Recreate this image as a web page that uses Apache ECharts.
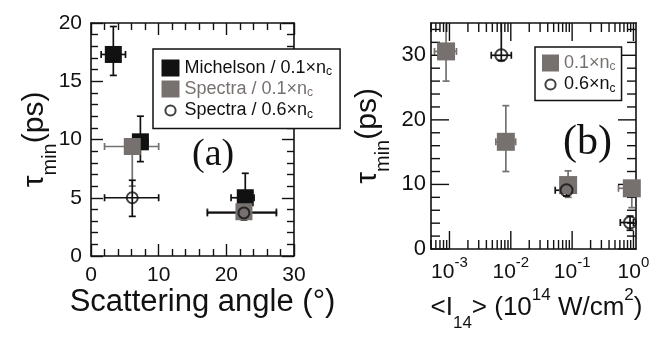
<!DOCTYPE html>
<html>
<head>
<meta charset="utf-8">
<script src="https://cdn.jsdelivr.net/npm/echarts@6/dist/echarts.min.js"></script>
<style>
  html, body { margin: 0; background: #fff; }
  .panel { position: absolute; left: 0; top: 0; width: 662px; height: 337px; }
</style>
</head>
<body>
<div id="chartA" class="panel"></div>
<div id="chartB" class="panel"></div>
<script>
// panel (a): scattering angle (deg) vs tau_min (ps)
const michelsonAngle = [3.3, 7.3, 22.8];
const michelsonTau = [17.3, 9.8, 5.0];
const michelsonAngleErr = [[1.5, 5.1], [6.2, 8.4], [20.7, 24.1]];
const michelsonTauErr = [[15.5, 19.7], [8.1, 12.0], [3.3, 7.1]];

const spectraLowAngle = [6.1, 22.6];
const spectraLowTau = [9.4, 3.8];
const spectraLowAngleErr = [[2.0, 10.0], [17.2, 27.4]];
const spectraLowTauErr = [[6.0, 10.0], [3.2, 4.4]];

const spectraHighAngle = [6.1, 22.6];
const spectraHighTau = [5.0, 3.7];
const spectraHighAngleErr = [[2.0, 10.0], [17.2, 27.4]];
const spectraHighTauErr = [[3.4, 6.5], [3.1, 4.3]];

// panel (b): <I14> (1e14 W/cm2) vs tau_min (ps)
const lowIntensity = [0.00088, 0.0083, 0.086, 0.94];
const lowTau = [30.6, 16.6, 9.9, 9.4];
const lowIntensityErr = [[0.00057, 0.0013], [0.0057, 0.012], [0.065, 0.11], [0.57, 1.5]];
const lowTauErr = [[26.0, 35.2], [12.0, 22.2], [8.0, 12.1], [6.4, 10.4]];

const highIntensity = [0.0070, 0.081, 0.88];
const highTau = [30.0, 9.1, 4.1];
const highIntensityErr = [[0.0048, 0.0102], [0.053, 0.11], [0.61, 1.0]];
const highTauErr = [[29.2, 40], [8.2, 10.0], [2.9, 5.1]];

// axes
const angleTicks = [0, 10, 20, 30];
const tauTicksA = [0, 5, 10, 15, 20];
const tauTicksB = [0, 10, 20, 30];
const tauMaxB = 35;
const decades = [0.001, 0.01, 0.1, 1];
const intensityMin = 0.0005;
const intensityMax = 1.1;

const BLACK = '#111';
const GRAY = '#76716f';
const FONT = 'Liberation Sans';

// tick lists for the log panel (inside the frame, bottom/top and left/right)
function linearMinor(ticks, step, max) {
  const out = [];
  for (let v = ticks[0] + step; v < max - 1e-9; v += step) {
    const r = Math.round(v * 1000) / 1000;
    if (!ticks.includes(r)) out.push(r);
  }
  return out;
}
const logMinorTicks = [];
[0.0001].concat(decades).forEach(d => {
  for (let m = 2; m <= 9; m++) {
    const v = m * d;
    if (v > intensityMin * 0.999 && v < intensityMax) logMinorTicks.push(v);
  }
});
// [x, y, direction (0 = on x axes, 1 = on y axes), length]
const ticksB = [].concat(
  decades.map(v => [v, 0, 0, 18]),
  logMinorTicks.map(v => [v, 0, 0, 9]),
  tauTicksB.map(v => [intensityMin, v, 1, 18]),
  linearMinor(tauTicksB, 2, tauMaxB).map(v => [intensityMin, v, 1, 9])
);

const zipErr = (xs, ys, xe, ye) => xs.map((x, i) => [x, ys[i], xe[i][0], xe[i][1], ye[i][0], ye[i][1]]);
const zip = (xs, ys) => xs.map((x, i) => [x, ys[i]]);

function errorBars(color) {
  return function (params, api) {
    const x = api.value(0), y = api.value(1);
    const c = api.coord([x, y]);
    const l = api.coord([api.value(2), y]);
    const r = api.coord([api.value(3), y]);
    const b = api.coord([x, api.value(4)]);
    const t = api.coord([x, api.value(5)]);
    const cap = 3.5;
    const style = { stroke: color, lineWidth: 1.7 };
    const ln = (x1, y1, x2, y2) => ({ type: 'line', shape: { x1, y1, x2, y2 }, style });
    return {
      type: 'group',
      children: [
        ln(l[0], c[1], r[0], c[1]),
        ln(l[0], c[1] - cap, l[0], c[1] + cap),
        ln(r[0], c[1] - cap, r[0], c[1] + cap),
        ln(c[0], b[1], c[0], t[1]),
        ln(c[0] - cap, b[1], c[0] + cap, b[1]),
        ln(c[0] - cap, t[1], c[0] + cap, t[1])
      ]
    };
  };
}

function frameTicks(xMin, xMax, yMin, yMax) {
  return function (params, api) {
    const dir = Number(api.value(2)), len = Number(api.value(3));
    const style = { stroke: BLACK, lineWidth: 1.4 };
    let a, b;
    if (dir === 0) {
      a = api.coord([api.value(0), yMin]);
      b = api.coord([api.value(0), yMax]);
      return { type: 'group', children: [
        { type: 'line', shape: { x1: a[0], y1: a[1], x2: a[0], y2: a[1] - len }, style },
        { type: 'line', shape: { x1: b[0], y1: b[1], x2: b[0], y2: b[1] + len }, style }
      ] };
    }
    a = api.coord([xMin, api.value(1)]);
    b = api.coord([xMax, api.value(1)]);
    return { type: 'group', children: [
      { type: 'line', shape: { x1: a[0], y1: a[1], x2: a[0] + len, y2: a[1] }, style },
      { type: 'line', shape: { x1: b[0], y1: b[1], x2: b[0] - len, y2: b[1] }, style }
    ] };
  };
}

const axisLine = { show: true, onZero: false, lineStyle: { color: BLACK, width: 1.6 } };
const noTicks = { axisTick: { show: false }, minorTick: { show: false }, splitLine: { show: false } };
function ticksOn(major, minorSplit, minor) {
  return {
    axisTick: { show: true, inside: true, length: major, lineStyle: { color: BLACK, width: 1.4 } },
    minorTick: { show: true, splitNumber: minorSplit, length: minor, lineStyle: { color: BLACK, width: 1.4 } },
    splitLine: { show: false }
  };
}

const tauRich = {
  t: { fontSize: 30, lineHeight: 30, verticalAlign: 'top', color: BLACK, fontFamily: FONT },
  s: { fontSize: 20, lineHeight: 20, verticalAlign: 'top', padding: [20, 0, 0, 0], color: BLACK, fontFamily: FONT }
};

const legendRich = {
  t: { fontSize: 18, lineHeight: 18, verticalAlign: 'top', color: BLACK, fontFamily: FONT },
  s: { fontSize: 12, lineHeight: 12, verticalAlign: 'top', padding: [7, 0, 0, 0], color: BLACK, fontFamily: FONT },
  tg: { fontSize: 18, lineHeight: 18, verticalAlign: 'top', color: GRAY, fontFamily: FONT },
  sg: { fontSize: 12, lineHeight: 12, verticalAlign: 'top', padding: [7, 0, 0, 0], color: GRAY, fontFamily: FONT }
};
const legendText = {
  'Michelson / 0.1×nc': '{t|Michelson / 0.1×n}{s|c}',
  'Spectra / 0.1×nc': '{tg|Spectra / 0.1×n}{sg|c}',
  'Spectra / 0.6×nc': '{t|Spectra / 0.6×n}{s|c}',
  '0.1×nc': '{tg|0.1×n}{sg|c}',
  '0.6×nc': '{t|0.6×n}{s|c}'
};
const ringIcon = 'path://M0,0M20,20M4,10A6,6,0,1,1,16,10A6,6,0,1,1,4,10Z';
const openItem = { color: 'rgba(0,0,0,0)', borderColor: BLACK, borderWidth: 2 };

const isDecade = v => Math.abs(Math.log10(v) - Math.round(Math.log10(v))) < 1e-6;

// ---- panel (a): its own chart instance ----
const chartA = echarts.init(document.getElementById('chartA'), null, { renderer: 'canvas' });
const angleAxis = {
  type: 'value', gridIndex: 0,
  min: angleTicks[0], max: angleTicks[angleTicks.length - 1], interval: angleTicks[1] - angleTicks[0],
  axisLine
};
const tauAxisA = {
  type: 'value', gridIndex: 0,
  min: tauTicksA[0], max: tauTicksA[tauTicksA.length - 1], interval: tauTicksA[1] - tauTicksA[0],
  axisLine
};
chartA.setOption({
  animation: false,
  textStyle: { fontFamily: FONT },
  grid: [{ left: 91, right: 368, top: 23, bottom: 81 }],
  xAxis: [
    Object.assign({}, angleAxis, ticksOn(12, 5, 7), {
      position: 'bottom',
      axisLabel: { margin: 9, fontSize: 21, lineHeight: 21, color: BLACK, fontFamily: FONT },
      name: 'Scattering angle (°)', nameLocation: 'middle', nameGap: 31, nameMoveOverlap: false,
      nameTextStyle: { fontSize: 31, lineHeight: 31, color: BLACK, fontFamily: FONT, padding: [0, 0, 0, 20] }
    }),
    Object.assign({}, angleAxis, ticksOn(12, 5, 7), { position: 'top', axisLabel: { show: false } })
  ],
  yAxis: [
    Object.assign({}, tauAxisA, ticksOn(12, 5, 7), {
      position: 'left',
      axisLabel: { margin: 9, fontSize: 21, color: BLACK, fontFamily: FONT },
      name: '{t|τ}{s|min}{t|(ps)}', nameLocation: 'middle', nameGap: 41, nameMoveOverlap: false,
      nameTextStyle: { rich: tauRich }
    }),
    Object.assign({}, tauAxisA, ticksOn(12, 5, 7), { position: 'right', axisLabel: { show: false } })
  ],
  legend: {
    left: 153, top: 49, orient: 'vertical', selectedMode: false,
    itemWidth: 18, itemHeight: 17, itemGap: 2,
    padding: [10, 8, 8, 8],
    backgroundColor: '#fff', borderColor: BLACK, borderWidth: 1.5, borderRadius: 0,
    textStyle: { rich: legendRich },
    formatter: n => legendText[n],
    data: [
      { name: 'Michelson / 0.1×nc', icon: 'rect' },
      { name: 'Spectra / 0.1×nc', icon: 'rect' },
      { name: 'Spectra / 0.6×nc', icon: ringIcon, itemStyle: openItem }
    ]
  },
  graphic: [
    { type: 'text', left: 192, top: 136, style: { text: '(a)', font: '38px "Liberation Serif"', fill: BLACK } }
  ],
  series: [
    {
      type: 'custom', clip: true, silent: true,
      renderItem: errorBars(BLACK), encode: { x: 0, y: 1 },
      data: zipErr(michelsonAngle, michelsonTau, michelsonAngleErr, michelsonTauErr)
    },
    {
      name: 'Michelson / 0.1×nc', type: 'scatter',
      symbol: 'rect', symbolSize: 17, itemStyle: { color: BLACK, opacity: 1 },
      data: zip(michelsonAngle, michelsonTau)
    },
    {
      type: 'custom', clip: true, silent: true,
      renderItem: errorBars(GRAY), encode: { x: 0, y: 1 },
      data: zipErr(spectraLowAngle, spectraLowTau, spectraLowAngleErr, spectraLowTauErr)
    },
    {
      name: 'Spectra / 0.1×nc', type: 'scatter',
      symbol: 'rect', symbolSize: 17, itemStyle: { color: GRAY, opacity: 1 },
      data: zip(spectraLowAngle, spectraLowTau)
    },
    {
      type: 'custom', clip: true, silent: true,
      renderItem: errorBars(BLACK), encode: { x: 0, y: 1 },
      data: zipErr(spectraHighAngle, spectraHighTau, spectraHighAngleErr, spectraHighTauErr)
    },
    {
      name: 'Spectra / 0.6×nc', type: 'scatter',
      symbol: 'circle', symbolSize: 11, itemStyle: openItem,
      data: zip(spectraHighAngle, spectraHighTau)
    }
  ]
});

// ---- panel (b): second chart instance stacked on top (transparent canvas) ----
const chartB = echarts.init(document.getElementById('chartB'), null, { renderer: 'canvas' });
const intensityAxis = { type: 'log', gridIndex: 0, min: intensityMin, max: intensityMax, axisLine };
const tauAxisB = { type: 'value', gridIndex: 0, min: tauTicksB[0], max: tauMaxB, axisLine };
chartB.setOption({
  animation: false,
  textStyle: { fontFamily: FONT },
  grid: [{ left: 431, right: 26, top: 23, bottom: 81 }],
  xAxis: [
    Object.assign({}, intensityAxis, noTicks, {
      position: 'bottom',
      axisLabel: {
        show: true, margin: 6, color: BLACK,
        formatter: v => (isDecade(v) ? '{b|10}{p|' + Math.round(Math.log10(v)) + '}' : ''),
        rich: {
          b: { fontSize: 21, lineHeight: 21, verticalAlign: 'top', padding: [7, 0, 0, 0], color: BLACK, fontFamily: FONT },
          p: { fontSize: 15, lineHeight: 15, verticalAlign: 'top', color: BLACK, fontFamily: FONT }
        }
      },
      name: '{b|<I}{sub|14}{b|> (10}{sup|14}{b| W/cm}{sup|2}{b|)}',
      nameLocation: 'middle', nameGap: 38, nameMoveOverlap: false,
      nameTextStyle: {
        padding: [0, 0, 0, 6],
        rich: {
          b: { fontSize: 26, lineHeight: 26, verticalAlign: 'top', padding: [8, 0, 0, 0], color: BLACK, fontFamily: FONT },
          sup: { fontSize: 17, lineHeight: 17, verticalAlign: 'top', color: BLACK, fontFamily: FONT },
          sub: { fontSize: 17, lineHeight: 17, verticalAlign: 'top', padding: [28, 0, 0, 0], color: BLACK, fontFamily: FONT }
        }
      }
    }),
    Object.assign({}, intensityAxis, noTicks, { position: 'top', axisLabel: { show: false } })
  ],
  yAxis: [
    Object.assign({}, tauAxisB, noTicks, {
      position: 'left',
      axisLabel: {
        margin: 5, fontSize: 22, color: BLACK, fontFamily: FONT,
        formatter: v => (tauTicksB.includes(v) ? String(v) : '')
      },
      name: '{t|τ}{s|min}{t|(ps)}', nameLocation: 'middle', nameGap: 48, nameMoveOverlap: false,
      nameTextStyle: { rich: tauRich }
    }),
    Object.assign({}, tauAxisB, noTicks, { position: 'right', axisLabel: { show: false } })
  ],
  legend: {
    left: 535, top: 47, orient: 'vertical', selectedMode: false,
    itemWidth: 17, itemHeight: 17, itemGap: 2,
    padding: [7, 6, 6, 6],
    backgroundColor: '#fff', borderColor: BLACK, borderWidth: 1.5, borderRadius: 0,
    textStyle: { rich: legendRich },
    formatter: n => legendText[n],
    data: [
      { name: '0.1×nc', icon: 'rect' },
      { name: '0.6×nc', icon: ringIcon, itemStyle: openItem }
    ]
  },
  graphic: [
    { type: 'text', left: 563, top: 122, style: { text: '(b)', font: '42px "Liberation Serif"', fill: BLACK } }
  ],
  series: [
    {
      type: 'custom', clip: true, silent: true,
      renderItem: errorBars(GRAY), encode: { x: 0, y: 1 },
      data: zipErr(lowIntensity, lowTau, lowIntensityErr, lowTauErr)
    },
    {
      name: '0.1×nc', type: 'scatter',
      symbol: 'rect', symbolSize: 18, itemStyle: { color: GRAY, opacity: 1 },
      data: zip(lowIntensity, lowTau)
    },
    {
      type: 'custom', clip: true, silent: true,
      renderItem: errorBars(BLACK), encode: { x: 0, y: 1 },
      data: zipErr(highIntensity, highTau, highIntensityErr, highTauErr)
    },
    {
      name: '0.6×nc', type: 'scatter',
      symbol: 'circle', symbolSize: 12, itemStyle: openItem,
      data: zip(highIntensity, highTau)
    },
    {
      type: 'custom', silent: true, clip: false, encode: { x: 0, y: 1 },
      renderItem: frameTicks(intensityMin, intensityMax, tauTicksB[0], tauMaxB),
      data: ticksB
    }
  ]
});

window.addEventListener('resize', () => { chartA.resize(); chartB.resize(); });
</script>
</body>
</html>
